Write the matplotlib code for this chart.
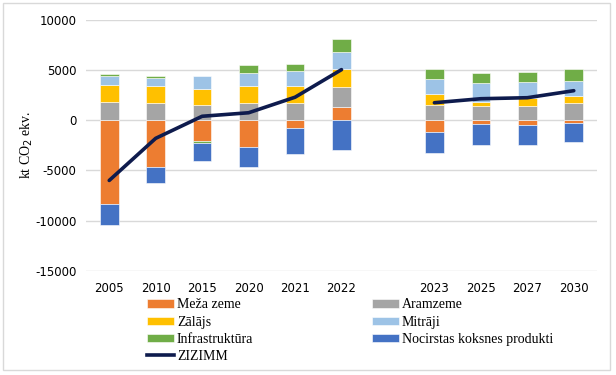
import numpy as np
import matplotlib
matplotlib.use("Agg")
import matplotlib.pyplot as plt
from matplotlib.patches import Rectangle, Patch
from matplotlib.lines import Line2D

plt.rcParams['axes.unicode_minus'] = False

nan = np.nan

# categories (empty slot separates history and projections)
years = ['2005', '2010', '2015', '2020', '2021', '2022', '', '2023', '2025', '2027', '2030']

# series values, kt CO2 ekv.
meza_zeme = [-8300, -4650, -2050, -2650, -800, 1350, nan, -1150, -350, -450, -250]
aramzeme = [1850, 1700, 1550, 1750, 1750, 1950, nan, 1550, 1450, 1450, 1700]
zalajs = [1650, 1700, 1550, 1650, 1650, 1800, nan, 1100, 400, 750, 750]
mitraji = [900, 800, 1350, 1350, 1500, 1750, nan, 1500, 1850, 1600, 1450]
infrastruktura = [200, 250, -200, 750, 750, 1250, nan, 1000, 1000, 1000, 1200]
koksnes_produkti = [-2150, -1650, -1800, -2000, -2550, -2950, nan, -2150, -2150, -2050, -1900]
zizimm = [-6000, -1800, 400, 750, 2300, 5050, nan, 1750, 2150, 2250, 2950]

series = [
    ("Meža zeme", meza_zeme, "#ED7D31"),
    ("Aramzeme", aramzeme, "#A5A5A5"),
    ("Zālājs", zalajs, "#FFC000"),
    ("Mitrāji", mitraji, "#9DC3E6"),
    ("Infrastruktūra", infrastruktura, "#70AD47"),
    ("Nocirstas koksnes produkti", koksnes_produkti, "#4472C4"),
]
line_color = "#0E1B4D"

fig = plt.figure(figsize=(6.16, 3.75), dpi=100)
ax = fig.add_axes([86/616, 104.3/375, 511/616, 250.7/375])

x = np.arange(len(years))
pos_bottom = np.zeros(len(years))
neg_bottom = np.zeros(len(years))
handles = {}
for name, vals, col in series:
    v = np.array(vals, dtype=float)
    ok = ~np.isnan(v)
    v0 = np.nan_to_num(v)
    bottom = np.where(v0 >= 0, pos_bottom, neg_bottom)
    ax.bar(x[ok], v0[ok], 0.4, bottom=bottom[ok], color=col, edgecolor="white",
           linewidth=0.4, zorder=2)
    pos_bottom += np.where(v0 >= 0, v0, 0)
    neg_bottom += np.where(v0 < 0, v0, 0)
    handles[name] = Patch(facecolor=col, edgecolor="white", linewidth=0.4)

ax.plot(x, zizimm, color=line_color, linewidth=2.6, zorder=3, solid_capstyle="round")
handles["ZIZIMM"] = Line2D([0], [0], color=line_color, linewidth=2.6)

ax.set_xlim(-0.5, len(years) - 0.5)
ax.set_ylim(-15000, 10000)
ax.set_yticks(np.arange(-15000, 10001, 5000))
ax.set_xticks(x)
ax.set_xticklabels(years)
ax.grid(axis="y", color="#D9D9D9", linewidth=1, zorder=0)
ax.set_axisbelow(True)
for s in ax.spines.values():
    s.set_visible(False)
ax.tick_params(length=0, labelsize=8.5, colors="#000000")
ax.tick_params(axis="x", pad=8)
ax.tick_params(axis="y", pad=7)
ax.set_ylabel("kt CO$_2$ ekv.", family="Liberation Serif", fontsize=10, labelpad=0)

# legend laid out as two columns
col1 = ["Meža zeme", "Zālājs", "Infrastruktūra", "ZIZIMM"]
col2 = ["Aramzeme", "Mitrāji", "Nocirstas koksnes produkti"]
leg_kw = dict(frameon=False, loc="upper left", borderpad=0, borderaxespad=0,
              handlelength=1.95, handleheight=0.55, handletextpad=0.2,
              labelspacing=0.3, prop={"family": "Liberation Serif", "size": 10})
leg1 = fig.legend([handles[n] for n in col1], col1,
                  bbox_to_anchor=(147/616, 1 - 298.5/375), **leg_kw)
leg2 = fig.legend([handles[n] for n in col2], col2,
                  bbox_to_anchor=(372/616, 1 - 298.5/375), **leg_kw)

# outer frame
fig.patches.append(Rectangle((3/616, 5/375), 607/616, 367/375, transform=fig.transFigure,
                             fill=False, edgecolor="#D9D9D9", linewidth=1))

fig.savefig("out.png", dpi=100)
